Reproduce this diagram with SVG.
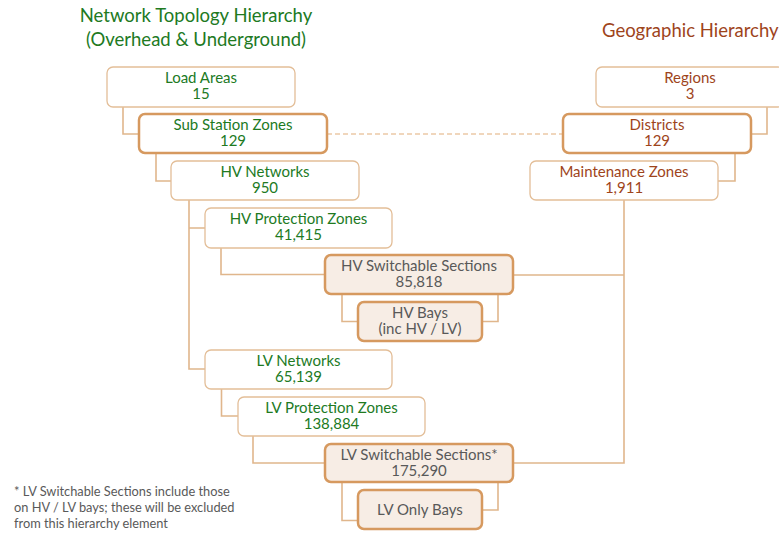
<svg xmlns="http://www.w3.org/2000/svg" width="779" height="533" viewBox="0 0 779 533">
<style>
.thin{fill:#fff;stroke:#e3be98;stroke-width:1.3}
.thick{fill:#fff;stroke:#d6995f;stroke-width:2.5}
.tint{fill:#f7ede5;stroke:#d6995f;stroke-width:2.5}
text{font-family:Lato,"Open Sans","Liberation Sans",sans-serif;text-anchor:middle}
.n{font-size:15px}
.g{fill:#217a1f}
.b{fill:#9e441b}
.k{fill:#595959}
.title{font-size:18.5px}
.note{font-size:12.8px;fill:#595959;text-anchor:start}
.con{fill:none;stroke:#e0b68c;stroke-width:1.6}
.dash{fill:none;stroke:#ebc9a6;stroke-width:1.6;stroke-dasharray:5 3}
</style>
<rect width="779" height="533" fill="#fff"/>
<g id="titles">
<text class="title g" x="196" y="22">Network Topology Hierarchy</text>
<text class="title g" x="196" y="46">(Overhead &amp; Underground)</text>
<text class="title b" x="602" y="37" style="text-anchor:start">Geographic Hierarchy</text>
</g>
<g id="connectors">
<path class="con" d="M123 107V134H139"/>
<path class="con" d="M156 153V181H171"/>
<path class="con" d="M189 200V369H205M189 228H205"/>
<path class="con" d="M221 248V274.5H325"/>
<path class="con" d="M342 294V321.5H358M498 294V321.5H482"/>
<path class="con" d="M221.5 389V416H238"/>
<path class="con" d="M253 436V463H325"/>
<path class="con" d="M342 482V520.5H358M498 482V510H482"/>
<path class="con" d="M767 107V134H751"/>
<path class="con" d="M735 153V181H718"/>
<path class="con" d="M624 200V463H513M624 275H513"/>
<path class="dash" d="M327 134H563"/>
</g>
<g id="load-areas"><rect class="thin" x="107" y="67" width="188" height="40" rx="6"/><text class="n g" x="201" y="83">Load Areas</text><text class="n g" x="201" y="99">15</text></g>
<g id="sub-station-zones"><rect class="thick" x="139" y="114" width="188" height="39" rx="6"/><text class="n g" x="233" y="130">Sub Station Zones</text><text class="n g" x="233" y="146">129</text></g>
<g id="hv-networks"><rect class="thin" x="171" y="161" width="188" height="39" rx="6"/><text class="n g" x="265" y="177">HV Networks</text><text class="n g" x="265" y="193">950</text></g>
<g id="hv-protection-zones"><rect class="thin" x="205" y="208" width="187" height="40" rx="6"/><text class="n g" x="298.5" y="224">HV Protection Zones</text><text class="n g" x="298.5" y="240">41,415</text></g>
<g id="hv-switchable-sections"><rect class="tint" x="325" y="255" width="188" height="39" rx="6"/><text class="n k" x="419" y="271">HV Switchable Sections</text><text class="n k" x="419" y="287">85,818</text></g>
<g id="hv-bays"><rect class="tint" x="358" y="302" width="124" height="39" rx="6"/><text class="n k" x="420" y="318">HV Bays</text><text class="n k" x="420" y="334">(inc HV / LV)</text></g>
<g id="lv-networks"><rect class="thin" x="205" y="350" width="187" height="39" rx="6"/><text class="n g" x="298.5" y="366">LV Networks</text><text class="n g" x="298.5" y="382">65,139</text></g>
<g id="lv-protection-zones"><rect class="thin" x="238" y="397" width="187" height="39" rx="6"/><text class="n g" x="331.5" y="413">LV Protection Zones</text><text class="n g" x="331.5" y="429">138,884</text></g>
<g id="lv-switchable-sections"><rect class="tint" x="325" y="444" width="188" height="38" rx="6"/><text class="n k" x="419" y="460">LV Switchable Sections*</text><text class="n k" x="419" y="476">175,290</text></g>
<g id="lv-only-bays"><rect class="tint" x="358" y="490" width="124" height="39" rx="6"/><text class="n k" x="420" y="515">LV Only Bays</text></g>
<g id="regions"><rect class="thin" x="596" y="67" width="188" height="40" rx="6"/><text class="n b" x="690" y="83">Regions</text><text class="n b" x="690" y="99">3</text></g>
<g id="districts"><rect class="thick" x="563" y="114" width="188" height="39" rx="6"/><text class="n b" x="657" y="130">Districts</text><text class="n b" x="657" y="146">129</text></g>
<g id="maintenance-zones"><rect class="thin" x="530" y="161" width="188" height="39" rx="6"/><text class="n b" x="624" y="177">Maintenance Zones</text><text class="n b" x="624" y="193">1,911</text></g>
<g id="footnote">
<text class="note" x="14" y="496">* LV Switchable  Sections include those</text>
<text class="note" x="14" y="512">on HV / LV bays; these will be excluded</text>
<text class="note" x="14" y="528">from this hierarchy element</text>
</g>
</svg>
